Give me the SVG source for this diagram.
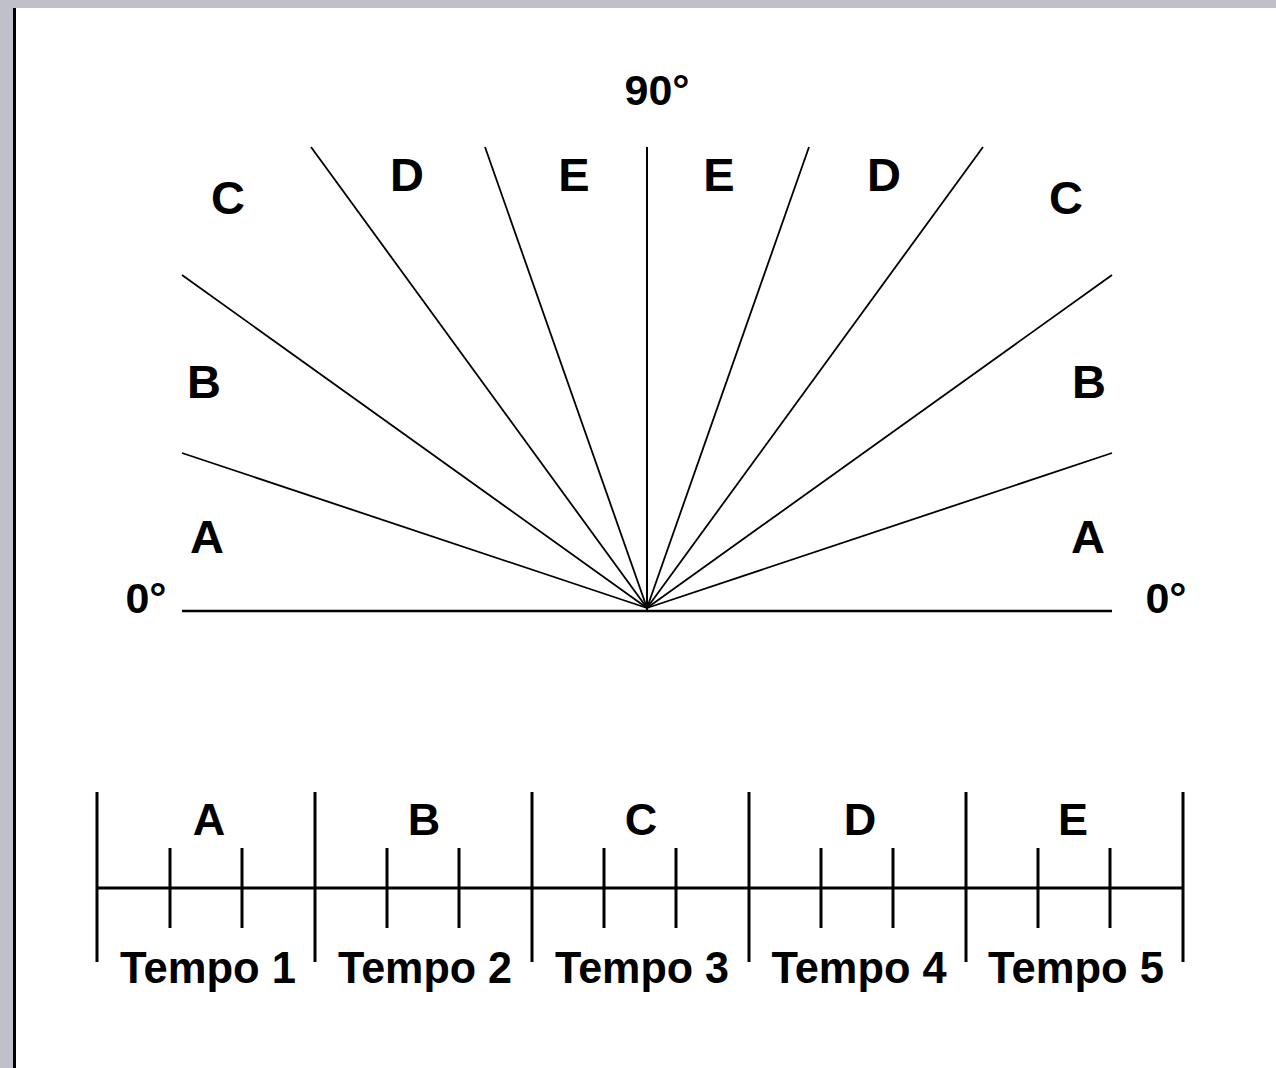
<svg xmlns="http://www.w3.org/2000/svg" width="1276" height="1068" viewBox="0 0 1276 1068">
<style>
text{font-family:"Liberation Sans",Arial,sans-serif;font-weight:bold;fill:#000;text-anchor:middle}
.lt{font-size:45px}
.fl{font-size:47px}
.tp{font-size:44px}
.dg{font-size:43px}
.ray{stroke:#000;stroke-width:1.8;fill:none}
.bar{stroke:#000;stroke-width:3;fill:none}
</style>
<rect x="0" y="0" width="1276" height="1068" fill="#fff"/>
<rect x="0" y="0" width="1276" height="8" fill="#c0c0cb"/>
<rect x="0" y="0" width="13" height="1068" fill="#c0c0cb"/>
<rect x="13" y="8" width="3" height="1060" fill="#000"/>
<g id="fan">
<line class="bar" x1="182" y1="611" x2="1112" y2="611" style="stroke-width:2.5"/>
<line class="ray" x1="647" y1="147" x2="647" y2="610" style="stroke-width:2"/>
<line class="ray" x1="182" y1="453" x2="647" y2="608"/>
<line class="ray" x1="182" y1="275" x2="647" y2="608"/>
<line class="ray" x1="311" y1="147" x2="647" y2="608"/>
<line class="ray" x1="485" y1="147" x2="647" y2="608"/>
<line class="ray" x1="809" y1="147" x2="647" y2="608"/>
<line class="ray" x1="983" y1="147" x2="647" y2="608"/>
<line class="ray" x1="1112" y1="275" x2="647" y2="608"/>
<line class="ray" x1="1112" y1="453" x2="647" y2="608"/>
</g>
<g id="fan-labels">
<text class="dg" x="657" y="105">90°</text>
<text class="dg" x="146" y="613">0°</text>
<text class="dg" x="1166" y="613">0°</text>
<text class="fl" x="228" y="214">C</text>
<text class="fl" x="407" y="191">D</text>
<text class="fl" x="574" y="191">E</text>
<text class="fl" x="719" y="191">E</text>
<text class="fl" x="884" y="191">D</text>
<text class="fl" x="1066" y="214">C</text>
<text class="fl" x="204" y="398">B</text>
<text class="fl" x="1089" y="398">B</text>
<text class="fl" x="207" y="553">A</text>
<text class="fl" x="1088" y="553">A</text>
</g>
<g id="timeline">
<line class="bar" x1="97" y1="888" x2="1183" y2="888"/>
<line class="bar" x1="97" y1="792" x2="97" y2="962"/>
<line class="bar" x1="315" y1="792" x2="315" y2="962"/>
<line class="bar" x1="532" y1="792" x2="532" y2="962"/>
<line class="bar" x1="749" y1="792" x2="749" y2="962"/>
<line class="bar" x1="966" y1="792" x2="966" y2="962"/>
<line class="bar" x1="1183" y1="792" x2="1183" y2="962"/>
<line class="bar" x1="170" y1="848" x2="170" y2="928"/>
<line class="bar" x1="242" y1="848" x2="242" y2="928"/>
<line class="bar" x1="387" y1="848" x2="387" y2="928"/>
<line class="bar" x1="459" y1="848" x2="459" y2="928"/>
<line class="bar" x1="604" y1="848" x2="604" y2="928"/>
<line class="bar" x1="676" y1="848" x2="676" y2="928"/>
<line class="bar" x1="821" y1="848" x2="821" y2="928"/>
<line class="bar" x1="893" y1="848" x2="893" y2="928"/>
<line class="bar" x1="1038" y1="848" x2="1038" y2="928"/>
<line class="bar" x1="1110" y1="848" x2="1110" y2="928"/>
</g>
<g id="timeline-labels">
<text class="lt" x="209" y="835">A</text>
<text class="lt" x="424" y="835">B</text>
<text class="lt" x="641" y="835">C</text>
<text class="lt" x="860" y="835">D</text>
<text class="lt" x="1073" y="835">E</text>
<text class="tp" x="208" y="983" textLength="176" lengthAdjust="spacingAndGlyphs">Tempo 1</text>
<text class="tp" x="425" y="983" textLength="174" lengthAdjust="spacingAndGlyphs">Tempo 2</text>
<text class="tp" x="642" y="983" textLength="174" lengthAdjust="spacingAndGlyphs">Tempo 3</text>
<text class="tp" x="859" y="983" textLength="175" lengthAdjust="spacingAndGlyphs">Tempo 4</text>
<text class="tp" x="1076" y="983" textLength="176" lengthAdjust="spacingAndGlyphs">Tempo 5</text>
</g>
</svg>
